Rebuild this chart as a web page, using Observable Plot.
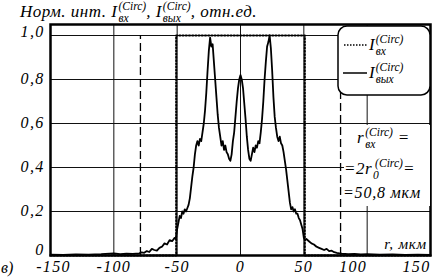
<!DOCTYPE html>
<html><head><meta charset="utf-8">
<script src="https://cdn.jsdelivr.net/npm/d3@7"></script>
<script src="https://cdn.jsdelivr.net/npm/@observablehq/plot@0.6"></script>
<style>
body{margin:0;background:#fff;}
svg text{font-family:"Liberation Serif","Times New Roman",Tinos,"DejaVu Serif",serif !important;font-style:italic;}
</style>
</head><body>
<div id="chart"></div>
<script>
// Output intensity profile I_вых (solid)
const outR = [-150,-140,-130,-120,-110,-100,-95,-90,-85,-80,-78,-76,-74,-72,-70,-68,-66,-64,-62,-60,-58,-56,-54,-52,-51,-50,-49,-48,-47,-46,-45,-44,-43,-42,-41,-40,-39,-38,-37,-36,-35,-34,-33,-32,-31,-30,-29,-28,-27,-26,-25,-24,-23,-22,-21,-20,-19,-18,-17,-16,-15,-14,-13,-12,-11,-10,-9,-8,-7,-6,-5,-4,-3,-2,-1,0,1,2,3,4,5,6,7,8,9,10,11,12,13,14,15,16,17,18,19,20,21,22,23,24,25,26,27,28,29,30,31,32,33,34,35,36,37,38,39,40,41,42,43,44,45,46,47,48,49,50,51,52,54,56,58,60,62,64,66,68,70,72,74,76,78,80,85,90,95,100,110,120,130,140,150];
const outI = [0.004,0.003,0.005,0.004,0.006,0.01,0.006,0.008,0.007,0.01,0.014,0.012,0.02,0.016,0.03,0.025,0.022,0.035,0.04,0.055,0.05,0.07,0.065,0.08,0.075,0.12,0.15,0.18,0.17,0.2,0.19,0.21,0.2,0.215,0.23,0.26,0.31,0.36,0.40,0.46,0.50,0.52,0.50,0.53,0.52,0.56,0.60,0.66,0.74,0.84,0.93,0.99,0.95,0.96,0.88,0.80,0.72,0.64,0.58,0.54,0.50,0.52,0.48,0.50,0.47,0.46,0.44,0.43,0.46,0.52,0.56,0.63,0.70,0.76,0.80,0.82,0.80,0.76,0.69,0.62,0.54,0.48,0.44,0.43,0.46,0.49,0.47,0.50,0.49,0.52,0.51,0.56,0.62,0.70,0.80,0.88,0.95,0.97,1.0,0.94,0.84,0.72,0.63,0.58,0.54,0.52,0.54,0.51,0.50,0.47,0.43,0.39,0.34,0.29,0.24,0.21,0.22,0.20,0.21,0.19,0.19,0.17,0.16,0.14,0.12,0.08,0.07,0.075,0.065,0.055,0.05,0.04,0.035,0.03,0.025,0.03,0.02,0.022,0.015,0.012,0.01,0.008,0.006,0.007,0.005,0.006,0.004,0.005,0.003,0.004,0.003];
// Input profile I_вх (dotted, top-hat of radius 50.8)
const inR = [-150,-50.8,-50.8,50.8,50.8,150];
const inI = [0,0,1,1,0,0];
// Dashed markers
const markR = [-79,79];
// Ticks
const xTicks = [-150,-100,-50,0,50,100,150];
const yTicks = [0,0.2,0.4,0.6,0.8,1.0];
const yTickLabels = ["0","0,2","0,4","0,6","0,8","1,0"];
const xGrid = [-100,-50,0,50,100];
const yGrid = [0.2,0.4,0.6,0.8,1.0];

const outData = outR.map((r,i)=>({r, v: outI[i]}));
const inData = inR.map((r,i)=>({r, v: inI[i]}));
const FONT = '"Liberation Serif", "Times New Roman", Tinos, serif';
const yFmt = d => yTickLabels[yTicks.indexOf(d)];

const plot = Plot.plot({
  width: 432, height: 277,
  marginLeft: 50, marginRight: 2, marginTop: 24, marginBottom: 22,
  style: {fontFamily: FONT, fontStyle: "italic", fontSize: "16px", background: "#fff", overflow: "visible"},
  x: {domain: [-150,150]},
  y: {domain: [0,1.05]},
  marks: [
    Plot.ruleX(xGrid, {stroke: "#111", strokeWidth: 1}),
    Plot.ruleY(yGrid, {stroke: "#111", strokeWidth: 1}),
    Plot.ruleX(markR, {y1: 0, y2: 1.0, stroke: "#000", strokeWidth: 1.3, strokeDasharray: "8,4"}),
    Plot.line(inData, {x: "r", y: "v", stroke: "#000", strokeWidth: 2, strokeDasharray: "1.2,2"}),
    Plot.line(outData, {x: "r", y: "v", stroke: "#000", strokeWidth: 1.8}),
    Plot.frame({stroke: "#000", strokeWidth: 2.5}),
    Plot.axisY(yTicks.slice(1, 5), {tickSize: 0, tickPadding: 6, dy: -1, label: null, tickFormat: yFmt, fill: "#000"}),
    Plot.axisY([yTicks[0]], {tickSize: 0, tickPadding: 6, dy: -6, label: null, tickFormat: yFmt, fill: "#000"}),
    Plot.axisY([yTicks[5]], {tickSize: 0, tickPadding: 6, dy: -4, label: null, tickFormat: yFmt, fill: "#000"}),
    Plot.axisX(xTicks.filter(t => t > -150 && t < 100), {tickSize: 0, tickPadding: 5, tickFormat: d => String(d), fill: "#000", label: null}),
    Plot.axisX([-150], {tickSize: 0, tickPadding: 5, dx: 3, tickFormat: d => String(d), fill: "#000", label: null}),
    Plot.axisX([100,150], {tickSize: 0, tickPadding: 5, dx: -14, tickFormat: d => String(d), fill: "#000", label: null})
  ]
});
document.getElementById("chart").appendChild(plot);

const svg = d3.select(plot);
svg.selectAll("text").attr("font-family", FONT).attr("letter-spacing", "1.3");

function rich(parent, x, y, parts, size, ls) {
  const g = parent.append("g").attr("fill", "#000").attr("text-anchor", "start").attr("font-family", FONT).attr("font-style", "italic");
  let cx = x;
  for (const p of parts) {
    if (typeof p === "string") {
      const t = g.append("text").attr("x", cx).attr("y", y).attr("font-size", size).attr("letter-spacing", ls).text(p);
      cx += t.node().getComputedTextLength();
    } else {
      let w = 0, ws = 0;
      const s2 = size * 0.68;
      const ox = p.ox || 1;
      if (p.sup) { const t = g.append("text").attr("x", cx + ox).attr("y", y - size*0.42).attr("font-size", s2).text(p.sup); w = t.node().getComputedTextLength() + ox; }
      if (p.sub) { const t = g.append("text").attr("x", cx + 1).attr("y", y + size*(p.subY || 0.3)).attr("font-size", s2).text(p.sub); ws = t.node().getComputedTextLength() + 1; }
      cx += Math.max(w, ws);
    }
  }
  return cx;
}

// Title
rich(svg, 20, 17, ["Норм. инт. ", "I", {sup: "(Circ)", sub: "вх"}, ", ", "I", {sup: "(Circ)", sub: "вых"}, ", отн.ед."], 17, 0.5);

// Legend box
svg.append("rect").attr("x", 338).attr("y", 26).attr("width", 92).attr("height", 69).attr("rx", 9)
  .attr("fill", "#fff").attr("stroke", "#000").attr("stroke-width", 1.5);
svg.append("line").attr("x1", 344).attr("x2", 368).attr("y1", 45).attr("y2", 45)
  .attr("stroke", "#000").attr("stroke-width", 1.5).attr("stroke-dasharray", "1.5,1.5");
svg.append("line").attr("x1", 343).attr("x2", 367).attr("y1", 73).attr("y2", 73)
  .attr("stroke", "#000").attr("stroke-width", 1.5);
rich(svg, 369, 50, ["I", {sup: "(Circ)", sub: "вх"}], 17, 0);
rich(svg, 369, 78, ["I", {sup: "(Circ)", sub: "вых"}], 17, 0);

// Annotation with white background
svg.append("rect").attr("x", 344).attr("y", 125).attr("width", 86).attr("height", 81).attr("fill", "#fff");
rich(svg, 357, 143, ["r", {sup: "(Circ)", sub: "вх"}, " ="], 17, 0.5);
rich(svg, 344, 174, ["=2r", {sup: "(Circ)", sub: "0", ox: 3}, "="], 17, 0.5);
rich(svg, 343, 198, ["=50,8 мкм"], 16, 0.8);

// Axis name
svg.append("text").attr("x", 427).attr("y", 249).attr("text-anchor", "end").attr("font-family", FONT).attr("font-style", "italic").attr("font-size", 15).attr("letter-spacing", 0.8).text("r, мкм");
// Panel label
svg.append("text").attr("x", 1).attr("y", 273).attr("text-anchor", "start").attr("font-family", FONT).attr("font-style", "italic").attr("font-size", 16).text("в)");
</script>
</body></html>
